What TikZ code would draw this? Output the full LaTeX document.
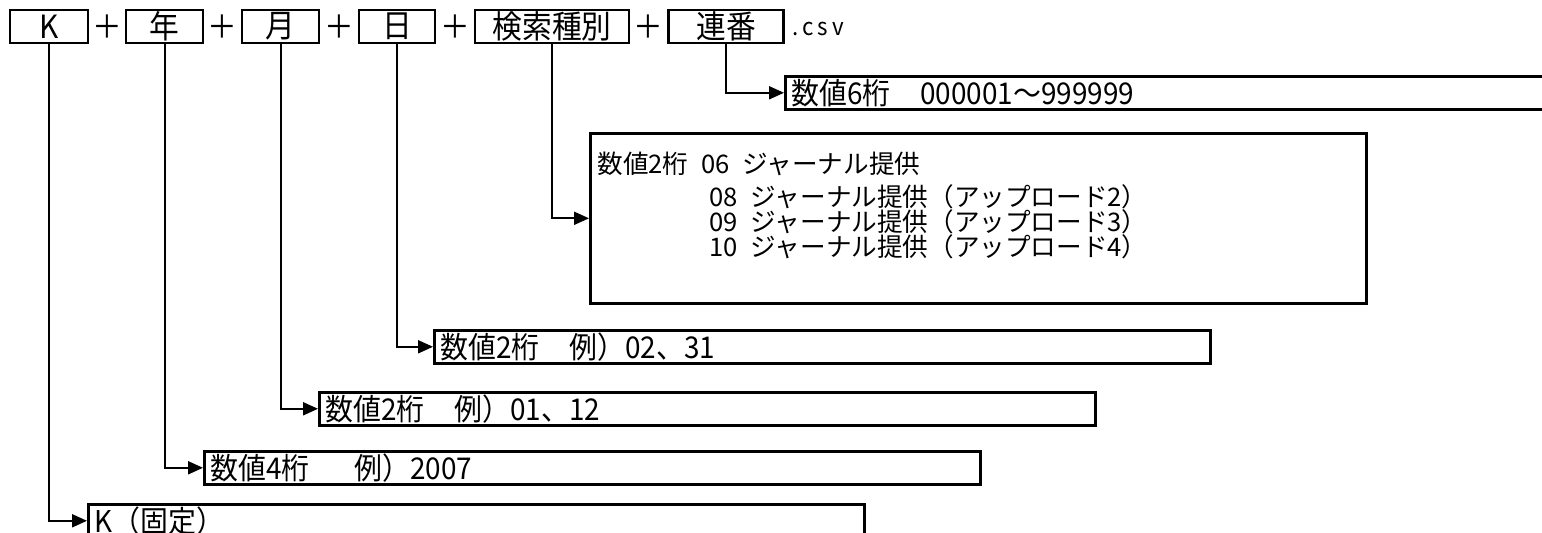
\documentclass[tikz,border=0pt]{standalone}
\usepackage{fontspec}
\usetikzlibrary{arrows.meta}
\usetikzlibrary{positioning}
\newfontfamily\jp[FakeStretch=0.93]{Noto Sans CJK JP}
\newfontfamily\jpplain{Noto Sans CJK JP}

\begin{document}
\begin{tikzpicture} [
  x=0.5pt, y=-0.5pt,
  every node/.style={font=\jp\fontsize{15pt}{17pt}\selectfont},
  part/.style={draw,line width=1.3pt,minimum height=16.5pt,inner sep=0pt,
    font=\jp\fontsize{16pt}{18pt}\selectfont},
  plus/.style={inner sep=0pt,font=\jp\fontsize{16pt}{18pt}\selectfont},
  desc/.style={draw,line width=1.3pt,anchor=north west,minimum height=16.5pt,
    text width=382pt,inner xsep=3pt,inner ysep=0pt,align=left},
  small/.style={font=\jpplain\fontsize{12.8pt}{15pt}\selectfont,anchor=west,inner sep=0pt},
  conn/.style={line width=1pt,-{Triangle[length=7.5pt,width=6.5pt]}}
  ]
  \path [use as bounding box, clip] (0,0) rectangle (1542,533);
  % file name parts
  \node [part,minimum width=39pt] (k) at (49,26.5) {K};
  \node [plus] (p1) at (107,26.5) {＋};
  \node [part,minimum width=38.5pt] (year) at (164.5,26.5) {年};
  \node [plus] (p2) at (222.5,26.5) {＋};
  \node [part,minimum width=38.5pt] (month) at (280.5,26.5) {月};
  \node [plus] (p3) at (339,26.5) {＋};
  \node [part,minimum width=38pt] (day) at (397,26.5) {日};
  \node [plus] (p4) at (455,26.5) {＋};
  \node [part,minimum width=77pt] (kind) at (552,26.5) {検索種別};
  \node [plus] (p5) at (648.5,26.5) {＋};
  \node [part,minimum width=57.5pt] (serial) at (726,26.5) {連番};
  \node [anchor=west,inner sep=0pt,font=\jp\fontsize{12pt}{14pt}\selectfont] (ext) at (792,29) {.\,c\,s\,v};
  % descriptions
  \node [desc,text width=392pt] (serialT) at (784,75) {数値6桁\enspace\, 000001～999999};
  \node [desc,minimum height=85pt] (kindT) at (589,132) {};
  \node [desc] (dayT) at (433,329) {数値2桁\enspace\, 例）02、31};
  \node [desc] (monthT) at (318,391) {数値2桁\enspace\, 例）01、12};
  \node [desc] (yearT) at (203,450) {数値4桁\quad\enspace 例）2007};
  \node [desc] (kT) at (87,503) {K（固定）};
  % search kinds
  \node [small] (kl1) at (597,164) {数値2桁\enspace 06\enspace ジャーナル提供};
  \node [small] (kl2) at (709,197) {08\enspace ジャーナル提供（アップロード2）};
  \node [small] (kl3) at (709,222) {09\enspace ジャーナル提供（アップロード3）};
  \node [small] (kl4) at (709,247) {10\enspace ジャーナル提供（アップロード4）};
  % connectors
  \draw [conn] (serial.south) |- (serialT.west);
  \draw [conn] (kind.south) |- (kindT.west);
  \draw [conn] (day.south) |- (dayT.west);
  \draw [conn] (month.south) |- (monthT.west);
  \draw [conn] (year.south) |- (yearT.west);
  \draw [conn] (k.south) |- (kT.west);
\end{tikzpicture}
\end{document}
